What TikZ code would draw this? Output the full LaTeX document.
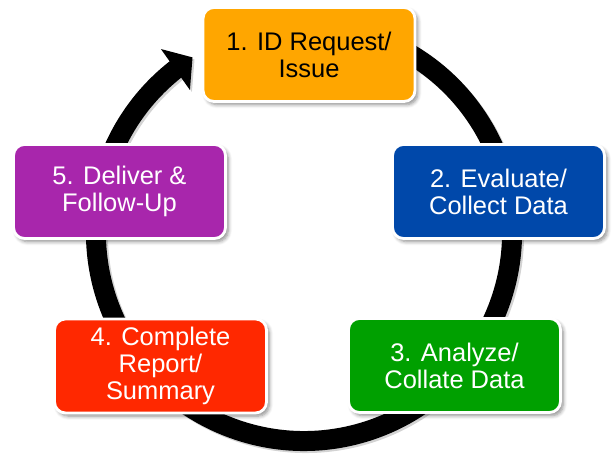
\documentclass[tikz,border=0pt]{standalone}
\usepackage{fontspec}
\setmainfont{Liberation Sans}
\usetikzlibrary{arrows.meta,bending,shadows.blur}

\definecolor{idorange}{RGB}{255,166,0}
\definecolor{evalblue}{RGB}{0,72,170}
\definecolor{analgreen}{RGB}{0,160,0}
\definecolor{reportred}{RGB}{255,40,0}
\definecolor{deliverpurple}{RGB}{168,38,172}

\tikzset{
  stage/.style={draw=white, line width=1.6pt, rounded corners=0.22cm,
    minimum width=4.24cm, minimum height=1.88cm, align=center, text=white,
    font=\fontsize{14.5}{15.4}\selectfont,
    blur shadow={shadow xshift=1.6pt, shadow yshift=-1.8pt,
      shadow opacity=45, shadow blur steps=6}},
  ring/.style={line width=0.4cm, -{Triangle[width=0.98cm,length=0.42cm]}},
}

\begin{document}
\begin{tikzpicture}[x=0.02cm,y=0.02cm]
\useasboundingbox (0,0) rectangle (613,455);
\coordinate (hub) at (304,222);
\draw [ring, black!50, opacity=0.35] ([shift={(2,-2)}]hub) ++(70:208) arc[start angle=70, end angle=-237.6, radius=208];
\draw [ring, black] (hub) ++(70:208) arc[start angle=70, end angle=-237.6, radius=208];
\node [stage, fill=idorange, text=black] (idreq) at (309,400.5) {1. ID Request/\\Issue};
\node [stage, fill=evalblue] (evaluate) at (498.5,263.5) {2. Evaluate/\\Collect Data};
\node [stage, fill=analgreen] (analyze) at (454.5,89.5) {3. Analyze/\\Collate Data};
\node [stage, fill=reportred] (report) at (160.5,89) {4. Complete\\Report/\\Summary};
\node [stage, fill=deliverpurple] (deliver) at (119.5,263.5) {5. Deliver \&\\Follow-Up};
\end{tikzpicture}
\end{document}
